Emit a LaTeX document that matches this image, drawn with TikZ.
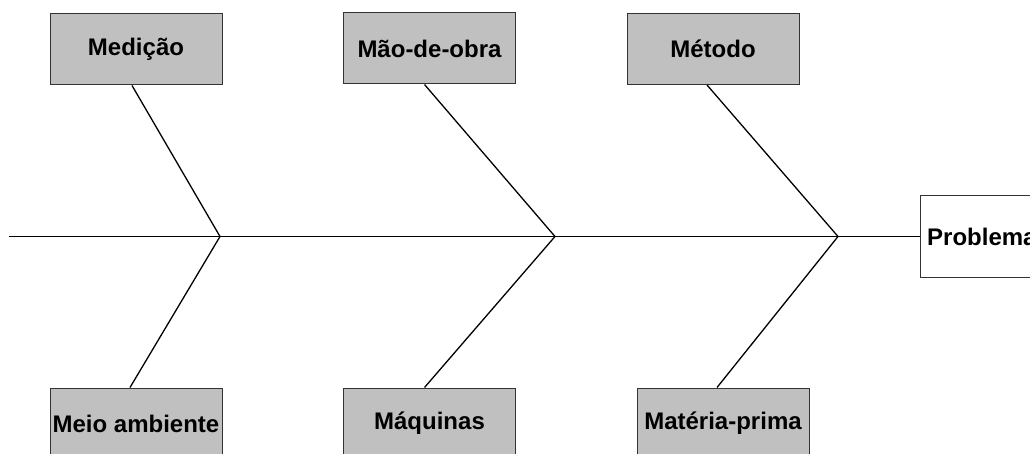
\documentclass[tikz,border=0pt]{standalone}
\usepackage{fontspec}
\setmainfont{Liberation Sans}
\definecolor{boxgray}{HTML}{C0C0C0}
\definecolor{edgegray}{HTML}{333333}
\begin{document}
\begin{tikzpicture}[x=1pt,y=-1pt,
  cause/.style={draw=edgegray,fill=boxgray,line width=1pt,minimum width=172pt,minimum height=71pt,inner sep=0pt,font=\fontsize{24}{27}\selectfont\bfseries},
  effect/.style={draw=edgegray,fill=white,line width=1pt,minimum width=150pt,minimum height=81pt,inner sep=0pt},
  bone/.style={draw=black,line width=1.3pt}]
\useasboundingbox (0,0) rectangle (1030,454);
\node[cause] (med) at (136,49.5) {Medição};
\node[cause] (mao) at (429.5,48.5) {Mão-de-obra};
\node[cause] (met) at (713,49) {Método};
\node[cause] (mei) at (136,423.5) {Meio ambiente};
\node[cause] (maq) at (429.5,423.5) {Máquinas};
\node[cause] (mat) at (723,423.5) {Matéria-prima};
\node[effect] (prob) at (995,236.5) {};
\node[anchor=west,inner sep=0pt,font=\fontsize{24}{27}\selectfont\bfseries] (probt) at (927,237) {Problema};
\coordinate (s0) at (9,236.5);
\coordinate (j1) at (220,236.5);
\coordinate (j2) at (555,236.5);
\coordinate (j3) at (838,236.5);
\draw[bone] (s0) -- (prob.west);
\draw[bone] ([xshift=-4pt]med.south) -- (j1) -- ([xshift=-6pt]mei.north);
\draw[bone] ([xshift=-5pt]mao.south) -- (j2) -- ([xshift=-5pt]maq.north);
\draw[bone] ([xshift=-6pt]met.south) -- (j3) -- ([xshift=-6pt]mat.north);
\end{tikzpicture}
\end{document}
